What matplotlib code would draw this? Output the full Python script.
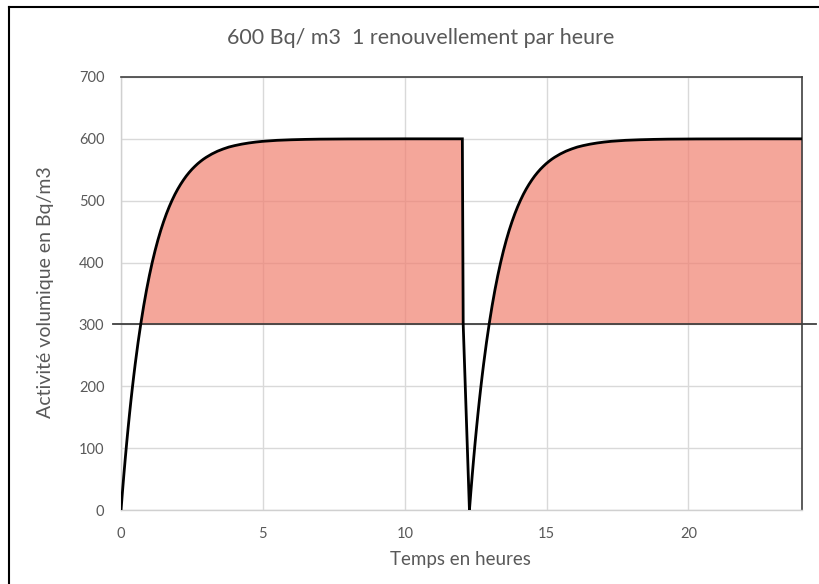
import matplotlib
matplotlib.use("Agg")
import matplotlib.pyplot as plt
import numpy as np
from matplotlib.lines import Line2D
import matplotlib.transforms as mtransforms

# Data (hours since start of each phase -> Bq/m3)
dt = [0, 0.05, 0.1, 0.15, 0.2, 0.25, 0.3, 0.35, 0.4, 0.45, 0.5, 0.6, 0.7, 0.8, 0.9,
      1.0, 1.1, 1.2, 1.3, 1.4, 1.5, 1.6, 1.7, 1.8, 1.9, 2.0, 2.1, 2.2, 2.3, 2.4,
      2.5, 2.6, 2.7, 2.8, 2.9, 3.0, 3.2, 3.4, 3.6, 3.8, 4.0, 4.25, 4.5, 4.75, 5.0,
      5.5, 6.0, 6.5, 7.0, 8.0, 9.0, 10.0, 11.0]
act = [0, 29.3, 57.1, 83.6, 108.8, 132.7, 155.5, 177.2, 197.8, 217.4, 236.1, 270.7,
       302.0, 330.4, 356.1, 379.3, 400.3, 419.3, 436.5, 452.1, 466.1, 478.9, 490.4,
       500.8, 510.3, 518.8, 526.5, 533.5, 539.9, 545.6, 550.8, 555.4, 559.7, 563.5,
       567.0, 570.1, 575.5, 580.0, 583.6, 586.7, 589.0, 591.4, 593.3, 594.8, 596.0,
       597.6, 598.5, 599.1, 599.5, 599.8, 599.9, 600.0, 600.0]
t_start1 = 0.0
t_drop = [12.03, 12.06, 12.28]
v_drop = [600, 300, 0]
t_start2 = 12.28
t_end = 24.0
seuil = 300

xticks = [0, 5, 10, 15, 20]
yticks = [0, 100, 200, 300, 400, 500, 600, 700]
title = "600 Bq/ m3  1 renouvellement par heure"
xlabel = "Temps en heures"
ylabel = "Activité volumique en Bq/m3"

plt.rcParams['font.family'] = ['Lato', 'DejaVu Sans']

fig = plt.figure(figsize=(8.2, 5.84), dpi=100)
ax = fig.add_axes([0.1476, 0.1267, 0.978 - 0.1476, 0.8682 - 0.1267])

ax.set_xlim(0, 24)
ax.set_ylim(0, 700)
ax.set_xticks(xticks)
ax.set_yticks(yticks)
ax.grid(True, color='#D9D9D9', linewidth=1)
ax.set_axisbelow(True)
ax.tick_params(length=0, labelsize=10.5, colors='#595959')
ax.tick_params(axis='x', pad=12)
ax.tick_params(axis='y', pad=12)

dt_a = np.array(dt)
act_a = np.array(act, dtype=float)
a1 = np.concatenate([t_start1 + dt_a, t_drop])
b1 = np.concatenate([act_a, v_drop])
a2 = np.concatenate([t_start2 + dt_a, [t_end]])
b2 = np.concatenate([act_a, [600]])

fill_col = '#F08070'
ax.fill_between(a1, seuil, b1, where=b1 >= seuil, interpolate=True,
                color=fill_col, alpha=0.7, linewidth=0, zorder=2)
ax.fill_between(a2, seuil, b2, where=b2 >= seuil, interpolate=True,
                color=fill_col, alpha=0.7, linewidth=0, zorder=2)

# threshold line extending beyond the axes
trans = mtransforms.blended_transform_factory(ax.transAxes, ax.transData)
ax.add_line(Line2D([-0.012, 1.02], [seuil, seuil], transform=trans,
                   color='#404040', linewidth=1.3, clip_on=False, zorder=3))

ax.plot(a1, b1, color='black', linewidth=2, zorder=4, solid_joinstyle='miter')
ax.plot(a2, b2, color='black', linewidth=2, zorder=4)

for s in ['left', 'bottom']:
    ax.spines[s].set_color('#D0D0D0')
    ax.spines[s].set_linewidth(1)
for s in ['top', 'right']:
    ax.spines[s].set_color('#404040')
    ax.spines[s].set_linewidth(1.2)

fig.text(0.513, 0.935, title, ha='center', va='center', fontsize=15.5, color='#595959')
fig.text(0.562, 0.042, xlabel, ha='center', va='center', fontsize=13.5, color='#595959')
fig.text(0.055, 0.50, ylabel, ha='center', va='center', rotation=90, fontsize=14, color='#595959')

# figure border (left and top)
fig.add_artist(Line2D([0.011, 0.011], [0, 0.988], transform=fig.transFigure,
                      color='black', linewidth=1.5))
fig.add_artist(Line2D([0.011, 1.0], [0.988, 0.988], transform=fig.transFigure,
                      color='black', linewidth=1.5))

fig.savefig('out.png', dpi=100)
